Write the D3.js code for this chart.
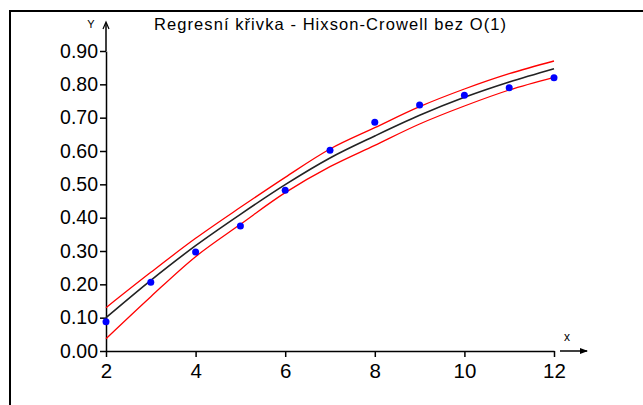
<!DOCTYPE html>
<html>
<head>
<meta charset="utf-8">
<script src="https://cdn.jsdelivr.net/npm/d3@7"></script>
<style>
  html, body { margin: 0; padding: 0; background: #fff; }
  svg { display: block; font-family: Arial, "Liberation Sans", sans-serif; }
</style>
</head>
<body>
<div id="chart"></div>
<script>
// values
const xValues = [2, 3, 4, 5, 6, 7, 8, 9, 10, 11, 12];
const measured = [0.088, 0.206, 0.297, 0.375, 0.482, 0.602, 0.686, 0.738, 0.767, 0.790, 0.820];
const fitted = [0.100, 0.212, 0.316, 0.410, 0.499, 0.579, 0.645, 0.707, 0.761, 0.807, 0.847];
const upperBand = [0.130, 0.236, 0.338, 0.431, 0.521, 0.606, 0.670, 0.733, 0.786, 0.832, 0.870];
const lowerBand = [0.037, 0.163, 0.283, 0.380, 0.475, 0.553, 0.617, 0.681, 0.735, 0.783, 0.821];
const xTicks = [2, 4, 6, 8, 10, 12];
const yTicks = [0, 0.1, 0.2, 0.3, 0.4, 0.5, 0.6, 0.7, 0.8, 0.9];
const title = "Regresní křivka - Hixson-Crowell bez O(1)";

const width = 643, height = 405;
const margin = { top: 51, left: 106, bottom: 54, right: 89 };

const svg = d3.select("#chart").append("svg")
    .attr("width", width)
    .attr("height", height);

// frame (only top and left edges are visible)
svg.append("path")
    .attr("d", `M10,${height} L10,11 L${width},11`)
    .attr("fill", "none")
    .attr("stroke", "#000")
    .attr("stroke-width", 2);

const x = d3.scaleLinear().domain([2, 12]).range([margin.left, width - margin.right]);
const y = d3.scaleLinear().domain([0, 0.9]).range([height - margin.bottom, margin.top]);

// title
svg.append("text")
    .attr("x", 154)
    .attr("y", 30)
    .attr("textLength", 352)
    .attr("lengthAdjust", "spacing")
    .style("font-size", "16.5px")
    .text(title);

// y axis
const yAxis = svg.append("g")
    .attr("transform", `translate(${x(2)},0)`)
    .call(d3.axisLeft(y).tickValues(yTicks).tickFormat(d3.format(".2f")).tickSize(6).tickSizeOuter(0).tickPadding(2));
yAxis.selectAll("text").style("font-size", "19.5px").attr("fill", "#000");
yAxis.selectAll("line, path").attr("stroke", "#000").attr("stroke-width", 1.5);

// x axis
const xAxis = svg.append("g")
    .attr("transform", `translate(0,${y(0)})`)
    .call(d3.axisBottom(x).tickValues(xTicks).tickFormat(d3.format("d")).tickSize(6).tickSizeOuter(0).tickPadding(6));
xAxis.selectAll("text").style("font-size", "20.5px").attr("fill", "#000");
xAxis.selectAll("line, path").attr("stroke", "#000").attr("stroke-width", 1.5);

// axis extensions with arrows
const y0 = y(0), x0 = x(2);
svg.append("line")
    .attr("x1", x0).attr("x2", x0)
    .attr("y1", y(0.9)).attr("y2", 23)
    .attr("stroke", "#000").attr("stroke-width", 1.5);
svg.append("path")
    .attr("d", `M${x0 - 3},${29} L${x0},${22} L${x0 + 3},${29}`)
    .attr("fill", "none").attr("stroke", "#000").attr("stroke-width", 1.2);
svg.append("line")
    .attr("x1", x(12) + 6).attr("x2", x(12) + 33)
    .attr("y1", y0).attr("y2", y0)
    .attr("stroke", "#000").attr("stroke-width", 1.5);
svg.append("path")
    .attr("d", `M${x(12) + 26},${y0 - 3} L${x(12) + 34},${y0} L${x(12) + 26},${y0 + 3} Z`)
    .attr("fill", "#000");

svg.append("text").attr("x", 91).attr("y", 28).attr("text-anchor", "middle")
    .style("font-size", "11px").text("Y");
svg.append("text").attr("x", 567).attr("y", 341).attr("text-anchor", "middle")
    .style("font-size", "12px").text("x");

// curves
const line = d3.line()
    .x((d, i) => x(xValues[i]))
    .y(d => y(d))
    .curve(d3.curveCatmullRom);

svg.append("path").datum(upperBand)
    .attr("d", line).attr("fill", "none").attr("stroke", "#ff0000").attr("stroke-width", 1.3);
svg.append("path").datum(lowerBand)
    .attr("d", line).attr("fill", "none").attr("stroke", "#ff0000").attr("stroke-width", 1.3);
svg.append("path").datum(fitted)
    .attr("d", line).attr("fill", "none").attr("stroke", "#222").attr("stroke-width", 1.6);

// measured points
svg.selectAll("circle.pt")
    .data(measured)
    .join("circle")
    .attr("class", "pt")
    .attr("cx", (d, i) => x(xValues[i]))
    .attr("cy", d => y(d))
    .attr("r", 3.5)
    .attr("fill", "#0000ff");
</script>
</body>
</html>
